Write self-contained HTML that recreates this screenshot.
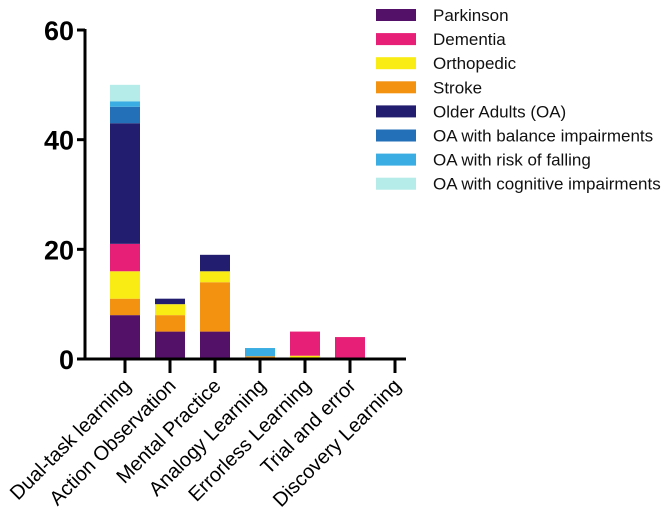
<!DOCTYPE html>
<html><head><meta charset="utf-8"><style>
body{margin:0;background:#fff;}
svg{display:block;font-family:"Liberation Sans",Arial,sans-serif;}
</style></head><body>
<svg id="chart" width="666" height="517"></svg>
<script>
const categories=["Dual-task learning","Action Observation","Mental Practice","Analogy Learning","Errorless Learning","Trial and error","Discovery Learning"];
const seriesNames=["Parkinson","Dementia","Orthopedic","Stroke","Older Adults (OA)","OA with balance impairments","OA with risk of falling","OA with cognitive impairments"];
const colors=["#531268","#e81f76","#f9ec14","#f39110","#221d6e","#2370b8","#3aaee2","#b5ebe8"];
// stack order bottom->top
const stackOrder=[0,3,2,1,4,5,6,7];
const parkinson=[8,5,5,0,0,0,0];
const dementia=[5,0,0,0,4.4,4,0];
const orthopedic=[5,2,2,0,0.6,0,0];
const stroke=[3,3,9,0.5,0,0,0];
const olderAdults=[22,1,3,0,0,0,0];
const oaBalance=[3,0,0,0,0,0,0];
const oaRisk=[1,0,0,1.5,0,0,0];
const oaCognitive=[3,0,0,0,0,0,0];
const yTicks=[0,20,40,60];
const series=[parkinson,dementia,orthopedic,stroke,olderAdults,oaBalance,oaRisk,oaCognitive];

const NS="http://www.w3.org/2000/svg";
const svg=document.getElementById('chart');
function mk(t,a,p){const e=document.createElementNS(NS,t);for(const k in a)e.setAttribute(k,a[k]);(p||svg).appendChild(e);return e;}
const y0=359,y1=30,yMax=60;
const yS=v=>y0-(v/yMax)*(y0-y1);
const xS=i=>125+i*45;
const bw=30;

categories.forEach((c,i)=>{
  let acc=0;
  stackOrder.forEach(s=>{
    const v=series[s][i];
    if(v<=0)return;
    const r=mk('rect',{x:xS(i)-bw/2,y:yS(acc+v),width:bw,height:yS(acc)-yS(acc+v),fill:colors[s]});
    
    
    acc+=v;
  });
});
const ya=mk('line',{x1:85,y1:yS(60)-1,x2:85,y2:y0+1.5,stroke:'#000','stroke-width':3});


const xa=mk('line',{x1:83.5,y1:y0,x2:406,y2:y0,stroke:'#000','stroke-width':3});


yTicks.forEach(t=>{
  mk('line',{x1:77,y1:yS(t),x2:85,y2:yS(t),stroke:'#000','stroke-width':3});
  const tx=mk('text',{x:74,y:yS(t)+10,'text-anchor':'end','font-size':27,'font-weight':'bold'});
  tx.textContent=t;
  
  
});
categories.forEach((c,i)=>{
  mk('line',{x1:xS(i),y1:y0,x2:xS(i),y2:373,stroke:'#000','stroke-width':3});
  const tx=mk('text',{x:xS(i)+7,y:387,'text-anchor':'end','font-size':20,transform:`rotate(-45 ${xS(i)+7} 387)`});
  tx.textContent=c;
  
  
});
seriesNames.forEach((n,i)=>{
  const cy=15+i*24.1;
  const g=mk('g',{});
  
  
  mk('rect',{x:376,y:cy-6,width:40,height:12,fill:colors[i]},g);
  const t=mk('text',{x:433,y:cy+6,'font-size':17,fill:'#111'},g);
  t.textContent=n;
});
</script>
</body></html>
